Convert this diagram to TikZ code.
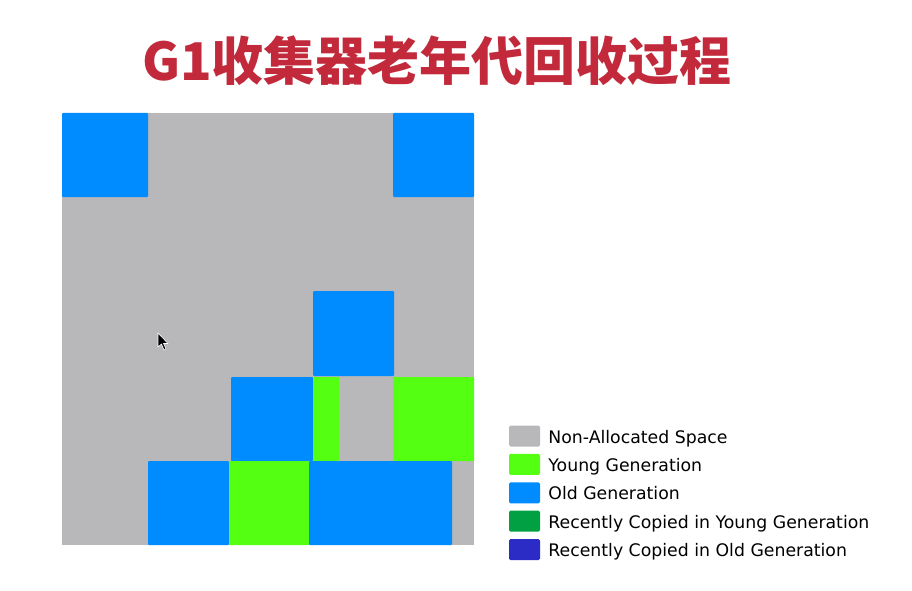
\documentclass[tikz,border=0pt]{standalone}
\usepackage{fontspec}
\setmainfont{DejaVu Sans}
\newfontfamily\cjk{Noto Sans CJK SC}
\usetikzlibrary{positioning}
\definecolor{gcRed}{HTML}{C22A3C}
\definecolor{gcFree}{HTML}{B8B7B9}
\definecolor{gcYoung}{HTML}{55FF12}
\definecolor{gcOld}{HTML}{008CFF}
\definecolor{gcCopyY}{HTML}{00A043}
\definecolor{gcCopyO}{HTML}{2B2BC6}
\tikzset{
  heap/.style={fill=gcFree},
  oldrg/.style={fill=gcOld, rounded corners=1pt},
  youngrg/.style={fill=gcYoung, rounded corners=1pt},
  key/.style={minimum width=31pt, minimum height=21pt, inner sep=0pt, rounded corners=1.5pt},
  keytxt/.style={inner sep=0pt, text=black, font=\fontsize{17.3}{20}\selectfont, anchor=base west},
}
\begin{document}
\begin{tikzpicture}[x=1pt, y=-1pt, node distance=7pt]
  \useasboundingbox[fill=white] (0,0) rectangle (912,591);
  % title
  \node[text=gcRed, font=\cjk\bfseries\fontsize{52}{56}\selectfont, inner sep=0pt] (title) at (437,61) {G1收集器老年代回收过程};
  % heap regions
  \fill[heap] (62,113) rectangle (474,545);
  \fill[oldrg] (62,113) rectangle (148,197);
  \fill[oldrg] (393,113) rectangle (474,197);
  \fill[oldrg] (313,291) rectangle (394,376);
  \fill[oldrg] (231,377) rectangle (313,461);
  \fill[youngrg] (313,377) rectangle (339,461);
  \fill[youngrg] (393,377) rectangle (474,461);
  \fill[oldrg] (148,461) rectangle (229,545);
  \fill[youngrg] (229,461) rectangle (309,545);
  \fill[oldrg] (309,461) rectangle (452,545);
  % mouse pointer
  \draw[fill=black, draw=white, line width=0.6pt, line join=round]
    (158,333) -- (158,347) -- (161.5,344) -- (164,350) -- (166,349) -- (163.5,343.5) -- (168,343.5) -- cycle;
  % legend
  \node[key, fill=gcFree] (kfree) at (524.5,436) {};
  \node[key, fill=gcYoung, below=of kfree] (kyoung) {};
  \node[key, fill=gcOld, below=of kyoung] (kold) {};
  \node[key, fill=gcCopyY, below=of kold] (kcopyy) {};
  \node[key, fill=gcCopyO, below=of kcopyy] (kcopyo) {};
  \node[keytxt] (tfree) at ([xshift=8pt,yshift=-7pt]kfree.east) {Non-Allocated Space};
  \node[keytxt] (tyoung) at ([xshift=8pt,yshift=-7pt]kyoung.east) {Young Generation};
  \node[keytxt] (told) at ([xshift=8pt,yshift=-7pt]kold.east) {Old Generation};
  \node[keytxt] (tcopyy) at ([xshift=8pt,yshift=-7pt]kcopyy.east) {Recently Copied in Young Generation};
  \node[keytxt] (tcopyo) at ([xshift=8pt,yshift=-7pt]kcopyo.east) {Recently Copied in Old Generation};
\end{tikzpicture}
\end{document}
